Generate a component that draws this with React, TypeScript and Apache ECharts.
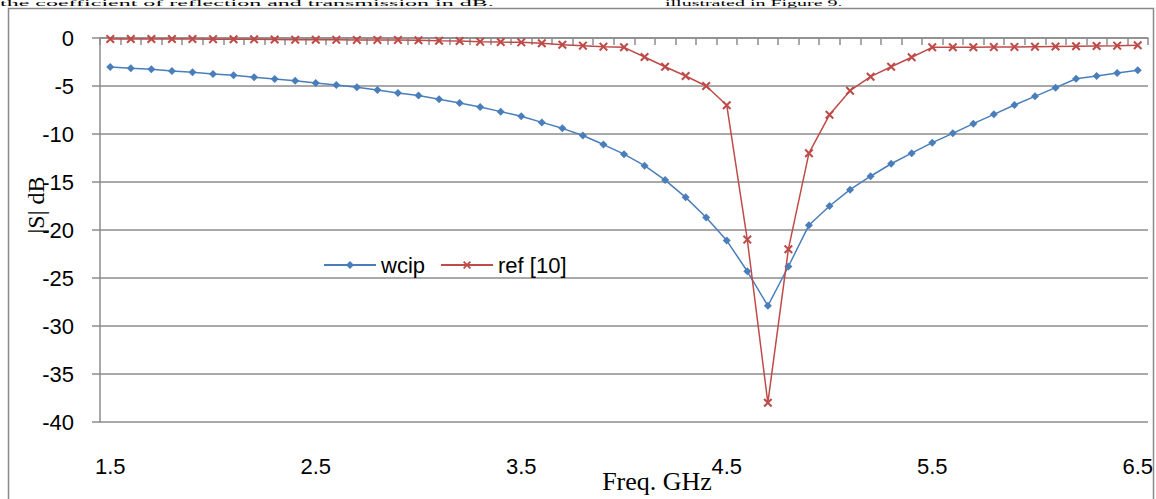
import React, { useEffect, useRef } from "react";
import * as echarts from "echarts";

const freqs: string[] = [
  "1.5","1.6","1.7","1.8","1.9","2.0","2.1","2.2","2.3","2.4",
  "2.5","2.6","2.7","2.8","2.9","3.0","3.1","3.2","3.3","3.4",
  "3.5","3.6","3.7","3.8","3.9","4.0","4.1","4.2","4.3","4.4",
  "4.5","4.6","4.7","4.8","4.9","5.0","5.1","5.2","5.3","5.4",
  "5.5","5.6","5.7","5.8","5.9","6.0","6.1","6.2","6.3","6.4","6.5",
];
const tickLabels: string[] = ["1.5", "2.5", "3.5", "4.5", "5.5", "6.5"];

const wcip: number[] = [
  -3.02, -3.16, -3.26, -3.44, -3.57, -3.75, -3.89, -4.1, -4.27, -4.45,
  -4.69, -4.9, -5.14, -5.42, -5.73, -6.0, -6.39, -6.77, -7.19, -7.67,
  -8.16, -8.79, -9.41, -10.15, -11.1, -12.1, -13.3, -14.8, -16.6, -18.7,
  -21.1, -24.3, -27.9, -23.8, -19.5, -17.5, -15.8, -14.4, -13.1, -12.0,
  -10.9, -9.93, -8.92, -7.95, -6.98, -6.08, -5.17, -4.24, -3.96, -3.65, -3.37,
];
const ref10: number[] = [
  -0.1, -0.1, -0.1, -0.1, -0.1, -0.12, -0.13, -0.14, -0.15, -0.17,
  -0.18, -0.19, -0.2, -0.2, -0.2, -0.24, -0.28, -0.31, -0.38, -0.42,
  -0.45, -0.55, -0.7, -0.8, -0.9, -0.97, -1.98, -2.99, -3.96, -5.0,
  -7.0, -21, -38, -22, -12, -8.0, -5.49, -4.03, -2.99, -2.01,
  -0.97, -0.97, -0.97, -0.95, -0.93, -0.9, -0.88, -0.86, -0.83, -0.8, -0.75,
];

const BLUE = "#4A7EBB";
const RED = "#BE4B48";
const GRID = "#8C8C8C";
const CROSS =
  "path://M0 1.6 L1.6 0 L5 3.4 L8.4 0 L10 1.6 L6.6 5 L10 8.4 L8.4 10 L5 6.6 L1.6 10 L0 8.4 L3.4 5 Z";

export default function App() {
  const ref = useRef<HTMLDivElement>(null);
  useEffect(() => {
    if (!ref.current) return;
    const chart = echarts.init(ref.current, null, { renderer: "svg" });
    const labelFont = "Liberation Sans";
    chart.setOption({
      animation: false,
      backgroundColor: "#ffffff",
      grid: { left: 100, right: 6, top: 38, bottom: 77, containLabel: false },
      legend: {
        left: 318,
        top: 249,
        itemWidth: 52,
        itemHeight: 10,
        itemGap: 15,
        textStyle: { fontFamily: labelFont, fontSize: 22, color: "#000" },
        data: ["wcip", "ref [10]"],
      },
      xAxis: [
        {
          type: "category",
          data: freqs,
          position: "top",
          boundaryGap: true,
          axisLine: { show: true, onZero: false, lineStyle: { color: GRID, width: 1.5 } },
          axisTick: { show: true, inside: true, length: 7, interval: 0, lineStyle: { color: GRID, width: 1.5 } },
          axisLabel: { show: false },
          splitLine: { show: false },
        },
        {
          type: "category",
          data: freqs,
          position: "bottom",
          boundaryGap: true,
          axisLine: { show: false },
          axisTick: { show: false },
          axisLabel: {
            show: true,
            interval: (i: number, v: string) => tickLabels.includes(v),
            margin: 33,
            fontFamily: labelFont,
            fontSize: 22,
            color: "#000",
          },
          splitLine: { show: false },
        },
      ],
      yAxis: {
        type: "value",
        min: -40,
        max: 0,
        interval: 5,
        axisLine: { show: true, lineStyle: { color: GRID, width: 1.5 } },
        axisTick: { show: true, length: 8, lineStyle: { color: GRID, width: 1.5 } },
        axisLabel: { margin: 26, fontFamily: labelFont, fontSize: 22, color: "#000" },
        splitLine: { show: true, lineStyle: { color: GRID, width: 1.5 } },
      },
      series: [
        {
          name: "wcip",
          type: "line",
          xAxisIndex: 0,
          data: wcip,
          symbol: "diamond",
          symbolSize: 8,
          showAllSymbol: true,
          lineStyle: { color: BLUE, width: 1.5 },
          itemStyle: { color: BLUE },
        },
        {
          name: "ref [10]",
          type: "line",
          xAxisIndex: 0,
          data: ref10,
          symbol: CROSS,
          symbolSize: 9,
          showAllSymbol: true,
          lineStyle: { color: RED, width: 1.5 },
          itemStyle: { color: RED },
        },
      ],
      graphic: [
        {
          type: "rect",
          shape: { x: 8.5, y: 8.5, width: 1145, height: 500 },
          style: { fill: "none", stroke: "#8A8A8A", lineWidth: 1.5 },
          silent: true,
        },
        {
          type: "text",
          x: 0,
          y: 0,
          scaleX: 1.2,
          scaleY: 0.36,
          style: {
            text: "the coefficient of reflection and transmission in dB.",
            font: "20px 'Liberation Serif'",
            fill: "#000",
            verticalAlign: "top",
          },
        },
        {
          type: "text",
          x: 665,
          y: 0,
          scaleY: 0.36,
          style: {
            text: "illustrated in Figure 9.",
            font: "20px 'Liberation Serif'",
            fill: "#000",
            verticalAlign: "top",
          },
        },
        {
          type: "text",
          x: 36,
          y: 205,
          rotation: Math.PI / 2,
          style: {
            text: "|S| dB",
            font: "24px 'Liberation Serif'",
            fill: "#000",
            align: "center",
            verticalAlign: "middle",
          },
        },
        {
          type: "text",
          x: 657,
          y: 481,
          style: {
            text: "Freq. GHz",
            font: "26px 'Liberation Serif'",
            fill: "#000",
            align: "center",
            verticalAlign: "middle",
          },
        },
      ],
    });
    return () => chart.dispose();
  }, []);
  return (
    <div
      ref={ref}
      style={{ position: "absolute", left: 0, top: 0, width: 1156, height: 499 }}
    />
  );
}
